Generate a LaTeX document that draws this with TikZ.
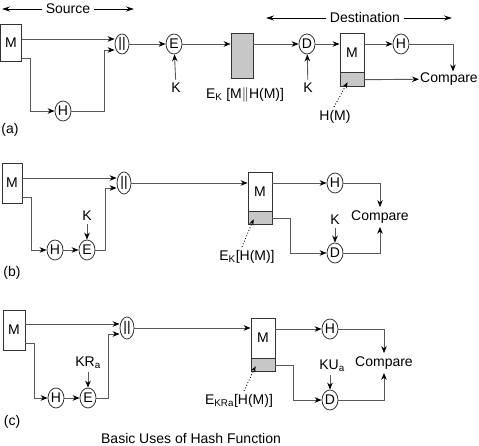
\documentclass[tikz,border=0pt]{standalone}
\usepackage{fontspec}
\setmainfont{Liberation Sans}
\usetikzlibrary{arrows.meta,shapes.geometric}
\begin{document}
\begin{tikzpicture}[x=1pt,y=-1pt,font=\fontsize{14}{16}\selectfont,
  ln/.style={draw=black!65,line width=0.9pt},
  arr/.style={ln,-{Stealth[length=7pt,width=5.5pt,color=black]}},
  fn/.style={ellipse,draw=black!80,line width=0.8pt,inner sep=0pt,minimum width=16pt,minimum height=20pt},
  blk/.style={rectangle,draw=black!80,line width=0.8pt,inner sep=0pt},
  hsh/.style={blk,fill=black!22},
  dots/.style={draw=black,dotted,line width=0.9pt,-{Stealth[length=6pt,width=4.5pt]}},
  span/.style={draw=black,line width=0.8pt,-{Stealth[length=8pt,width=5pt]}}]
\useasboundingbox (0,0) rectangle (479,446);
\coordinate (srcL) at (2,9);
\coordinate (srcR) at (134,9);
\node (src) at (68,9) {Source};
\draw[span] (src) -- (srcL);
\draw[span] (src) -- (srcR);
\coordinate (dstL) at (266,18);
\coordinate (dstR) at (452,18);
\node (dst) at (365,18) {Destination};
\draw[span] (dst) -- (dstL);
\draw[span] (dst) -- (dstR);
\node[blk,minimum width=21pt,minimum height=37pt] (Ma) at (11,43) {M};
\node[fn,minimum width=14pt] (catA) at (122,44) {||};
\node[fn] (Ha) at (63,111) {H};
\node[fn] (Ea) at (174,44) {E};
\node (KEa) at (176,88) {K};
\node[hsh,minimum width=22pt,minimum height=45pt] (encA) at (242,55.5) {};
\node (encAl) at (245,95) {E\textsubscript{K} [M$\|$H(M)]};
\node[fn] (Da) at (307,44) {D};
\node (KDa) at (308,88) {K};
\node[blk,minimum width=24pt,minimum height=39pt] (msgA) at (352,52.5) {M};
\node[hsh,minimum width=24pt,minimum height=14pt,anchor=north] (hshA) at (msgA.south) {};
\node[fn] (Hra) at (401,44) {H};
\node[anchor=west,inner sep=1pt] (cmpA) at (419,79) {Compare};
\node (hmA) at (335,117) {H(M)};
\node (tagA) at (10,130) {(a)};
\draw[arr] ([yshift=4pt]Ma.east) -- ([yshift=5pt]catA.west);
\draw[arr] ([yshift=-15pt]Ma.east) -- ++(9,0) |- (Ha);
\draw[arr] (Ha.east) -| ([xshift=-10pt,yshift=-6pt]catA.west) -- ([yshift=-6pt]catA.west);
\draw[arr] (catA) -- (Ea);
\draw[arr] (KEa) -- (Ea);
\draw[arr] (Ea) -- (Ea -| encA.west);
\draw[arr] (encA.east |- Da) -- (Da);
\draw[arr] (KDa) -- (Da);
\draw[arr] (Da) -- (Da -| msgA.west);
\draw[arr] (msgA.east |- Hra) -- (Hra);
\draw[arr] (Hra) -| ([xshift=4pt]cmpA.north);
\draw[arr] (hshA) -- (cmpA);
\draw[dots] ([xshift=-1pt]hmA.north) -- ([xshift=8pt,yshift=5pt]hshA.south west);
\node[blk,minimum width=20pt,minimum height=40pt] (Mb) at (12,183) {M};
\node[fn,minimum width=14pt,minimum height=22pt] (catB) at (124,183) {||};
\node[fn] (Hb) at (55,250) {H};
\node[fn] (Eb) at (87,250) {E};
\node (KEb) at (87,216) {K};
\node[blk,minimum width=24pt,minimum height=39pt] (msgB) at (260,191.5) {M};
\node[hsh,minimum width=24pt,minimum height=13pt,anchor=north] (hshB) at (msgB.south) {};
\node[fn] (Hrb) at (335,183) {H};
\node[fn] (Db) at (335,253) {D};
\node (KDb) at (335,220) {K};
\node (cmpB) at (380,217) {Compare};
\node (encBl) at (247,257) {E\textsubscript{K}[H(M)]};
\node (tagB) at (12,273) {(b)};
\draw[arr] ([yshift=5pt]Mb.east) -- ([yshift=5pt]catB.west);
\draw[arr] ([yshift=-14pt]Mb.east) -- ++(9,0) |- (Hb);
\draw[arr] (Hb) -- (Eb);
\draw[arr] (KEb) -- (Eb);
\draw[arr] (Eb.east) -| ([xshift=-11pt,yshift=-5pt]catB.west) -- ([yshift=-5pt]catB.west);
\draw[arr] (catB) -- (catB -| msgB.west);
\draw[arr] (msgB.east |- Hrb) -- (Hrb);
\draw[arr] (Hrb) -| (cmpB);
\draw[arr] (hshB.east) -- ++(18,0) |- (Db);
\draw[arr] (KDb) -- (Db);
\draw[arr] (Db) -| (cmpB);
\draw[dots] ([xshift=-5pt]encBl.north) -- ([xshift=6pt,yshift=6pt]hshB.south west);
\node[blk,minimum width=22pt,minimum height=40pt] (Mc) at (14,330) {M};
\node[fn,minimum width=14pt,minimum height=22pt] (catC) at (127,328) {||};
\node[fn] (Hc) at (56,398) {H};
\node[fn] (Ec) at (88,398) {E};
\node (KEc) at (88,363) {KR\textsubscript{a}};
\node[blk,minimum width=24pt,minimum height=40pt] (msgC) at (263,338) {M};
\node[hsh,minimum width=24pt,minimum height=13pt,anchor=north] (hshC) at (msgC.south) {};
\node[fn] (Hrc) at (330,329) {H};
\node[fn] (Dc) at (330,400) {D};
\node (KDc) at (332,366) {KU\textsubscript{a}};
\node (cmpC) at (384,363) {Compare};
\node (encCl) at (239,401) {E\textsubscript{KRa}[H(M)]};
\node (tagC) at (12,422) {(c)};
\node (capt) at (191,438) {Basic Uses of Hash Function};
\draw[arr] ([yshift=6pt]Mc.east) -- ([yshift=4pt]catC.west);
\draw[arr] ([yshift=-13pt]Mc.east) -- ++(9,0) |- (Hc);
\draw[arr] (Hc) -- (Ec);
\draw[arr] (KEc.south -| Ec) -- (Ec);
\draw[arr] (Ec.east) -| ([xshift=-11pt,yshift=-6pt]catC.west) -- ([yshift=-6pt]catC.west);
\draw[arr] (catC) -- (catC -| msgC.west);
\draw[arr] (msgC.east |- Hrc) -- (Hrc);
\draw[arr] (Hrc) -| (cmpC);
\draw[arr] (hshC.east) -- ++(18,0) |- (Dc);
\draw[arr] (KDc.south -| Dc) -- (Dc);
\draw[arr] (Dc) -| (cmpC);
\draw[dots] ([xshift=5pt]encCl.north) -- ([xshift=5pt,yshift=6pt]hshC.south west);
\end{tikzpicture}
\end{document}
